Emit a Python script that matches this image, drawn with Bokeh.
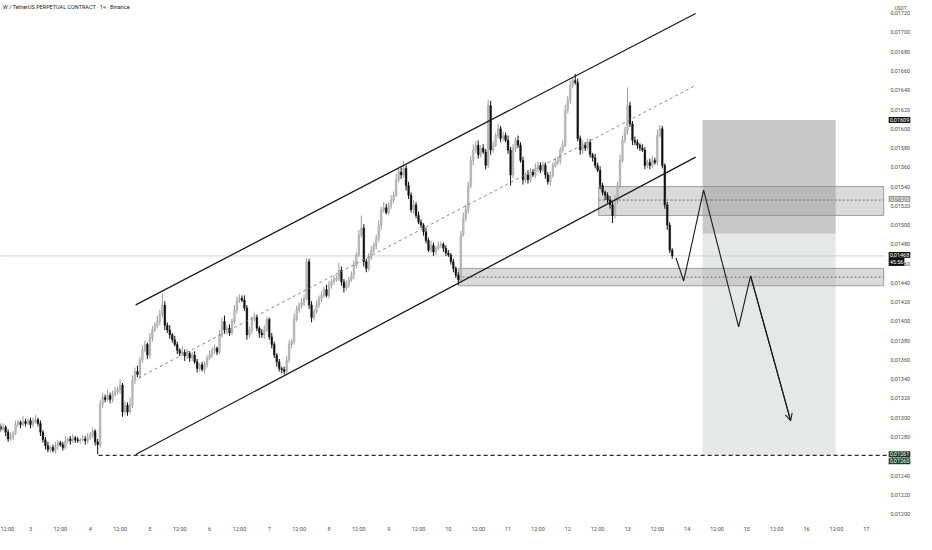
from bokeh.plotting import figure
from bokeh.models import (ColumnDataSource, Range1d, FixedTicker, CustomJSTickFormatter,
                          Label, Arrow, OpenHead)
from bokeh.embed import file_html
from bokeh.resources import INLINE

# ---------------- data (prices in units of 0.00001 USDT, hourly candles) ----------------
close_e5 = [
    1288, 1290, 1285, 1278, 1280, 1284, 1293, 1295, 1293, 1296, 1294, 1297, 1293, 1296, 1298, 1294, 1285, 1277, 1271, 1267,
    1269, 1266, 1271, 1274, 1272, 1269, 1276, 1278, 1276, 1279, 1277, 1276, 1277, 1278, 1276, 1279, 1282, 1286, 1275, 1272,
    1314, 1321, 1319, 1323, 1319, 1324, 1327, 1329, 1334, 1306, 1313, 1306, 1313, 1339, 1348, 1345, 1360, 1370, 1376, 1365,
    1383, 1391, 1396, 1400, 1407, 1417, 1396, 1391, 1386, 1381, 1376, 1370, 1367, 1368, 1364, 1367, 1362, 1365, 1358, 1351,
    1355, 1350, 1355, 1362, 1365, 1370, 1372, 1368, 1386, 1400, 1391, 1393, 1388, 1400, 1412, 1422, 1424, 1422, 1414, 1386,
    1391, 1402, 1404, 1393, 1388, 1386, 1391, 1402, 1384, 1376, 1365, 1358, 1351, 1350, 1348, 1360, 1376, 1379, 1402, 1412,
    1417, 1419, 1424, 1462, 1417, 1404, 1410, 1417, 1424, 1427, 1433, 1427, 1438, 1441, 1443, 1445, 1453, 1441, 1435, 1438,
    1443, 1448, 1458, 1469, 1490, 1497, 1462, 1455, 1466, 1474, 1479, 1486, 1500, 1516, 1518, 1513, 1521, 1526, 1531, 1547,
    1555, 1552, 1559, 1541, 1531, 1516, 1521, 1510, 1503, 1500, 1493, 1484, 1474, 1479, 1472, 1476, 1479, 1480, 1476, 1471,
    1469, 1462, 1455, 1448, 1443, 1490, 1507, 1516, 1541, 1567, 1578, 1583, 1573, 1580, 1576, 1562, 1624, 1578, 1583, 1593,
    1600, 1590, 1593, 1588, 1578, 1552, 1580, 1588, 1583, 1567, 1547, 1552, 1547, 1555, 1552, 1559, 1562, 1557, 1562, 1552,
    1545, 1552, 1562, 1565, 1567, 1578, 1583, 1619, 1630, 1645, 1650, 1648, 1590, 1578, 1583, 1580, 1586, 1573, 1570, 1562,
    1557, 1541, 1534, 1531, 1526, 1521, 1510, 1526, 1541, 1567, 1588, 1598, 1624, 1605, 1588, 1586, 1583, 1580, 1578, 1562,
    1565, 1562, 1567, 1565, 1593, 1600, 1562, 1521, 1500, 1474, 1468,
]
open_first_e5 = 1291
up_wick_e5 = [
    3, 4, 2, 3, 5, 2, 4, 3, 2, 6, 3, 2, 3, 4, 5, 2, 3, 2, 3, 4,
    2, 3, 4, 3, 2, 3, 5, 2, 3, 4, 2, 3, 2, 4, 3, 5, 3, 4, 2, 3,
    4, 5, 3, 6, 3, 4, 5, 3, 6, 2, 4, 3, 8, 5, 4, 6, 3, 5, 4, 2,
    5, 4, 3, 6, 5, 12, 4, 3, 5, 2, 4, 3, 2, 6, 3, 4, 2, 3, 4, 3,
    2, 3, 4, 3, 5, 3, 4, 2, 5, 4, 6, 3, 4, 3, 5, 4, 4, 3, 5, 3,
    4, 3, 5, 3, 2, 4, 5, 3, 2, 4, 3, 2, 3, 2, 3, 4, 5, 3, 6, 4,
    3, 5, 4, 4, 3, 4, 3, 5, 3, 4, 3, 5, 4, 3, 5, 3, 8, 4, 3, 4,
    3, 4, 5, 3, 5, 13, 4, 3, 5, 4, 3, 4, 5, 3, 6, 4, 3, 5, 4, 6,
    4, 5, 8, 3, 4, 3, 5, 3, 4, 3, 2, 4, 3, 5, 3, 2, 4, 3, 2, 3,
    3, 2, 3, 2, 3, 4, 6, 5, 4, 5, 6, 4, 5, 3, 4, 3, 6, 5, 4, 3,
    5, 3, 4, 3, 5, 3, 4, 3, 5, 3, 4, 3, 5, 4, 3, 5, 4, 3, 4, 3,
    3, 4, 3, 5, 4, 3, 5, 6, 4, 5, 3, 7, 4, 3, 5, 3, 4, 3, 2, 4,
    3, 4, 3, 2, 3, 4, 3, 5, 4, 6, 5, 4, 19, 4, 3, 4, 3, 2, 4, 3,
    3, 4, 5, 3, 6, 4, 3, 2, 3, 3, 2,
]
low_wick_e5 = [
    3, 2, 4, 3, 2, 3, 2, 3, 4, 2, 3, 2, 4, 3, 2, 3, 4, 3, 4, 3,
    3, 2, 3, 4, 2, 3, 2, 3, 4, 2, 3, 2, 3, 2, 4, 3, 2, 3, 4, 10,
    3, 4, 3, 2, 4, 3, 2, 3, 4, 5, 3, 4, 2, 3, 4, 3, 5, 3, 2, 4,
    3, 4, 2, 3, 4, 3, 5, 3, 4, 3, 2, 4, 3, 2, 5, 3, 4, 3, 2, 4,
    3, 2, 4, 3, 2, 3, 4, 3, 2, 3, 4, 5, 3, 2, 3, 4, 3, 2, 3, 5,
    3, 4, 2, 3, 5, 3, 4, 2, 3, 4, 3, 5, 3, 4, 3, 2, 3, 4, 3, 2,
    3, 4, 3, 2, 4, 5, 3, 2, 3, 4, 3, 2, 3, 4, 3, 2, 3, 4, 5, 3,
    3, 2, 4, 3, 2, 3, 5, 4, 3, 2, 3, 4, 3, 5, 3, 2, 3, 4, 3, 2,
    3, 4, 3, 5, 4, 3, 4, 3, 2, 3, 4, 3, 2, 3, 4, 3, 2, 3, 4, 3,
    2, 3, 4, 3, 5, 3, 2, 3, 4, 3, 5, 3, 4, 3, 2, 4, 3, 5, 3, 2,
    3, 4, 3, 2, 4, 11, 3, 4, 3, 2, 5, 3, 4, 3, 2, 3, 4, 3, 2, 4,
    3, 4, 3, 2, 3, 4, 3, 2, 3, 4, 3, 2, 3, 5, 4, 3, 2, 3, 4, 3,
    2, 4, 3, 5, 3, 4, 8, 3, 4, 3, 2, 3, 4, 3, 5, 3, 4, 3, 2, 4,
    3, 4, 3, 2, 3, 2, 3, 4, 5, 3, 3,
]

# x axis ticks: candle index (0 = day 2, 12:00)
x_tick_pos = [0, 12, 24, 36, 48, 60, 72, 84, 96, 108, 120, 132, 144, 156, 168, 180, 192, 204, 216, 228, 240,
              252, 264, 276, 288, 300, 312, 324, 336, 348]
x_tick_labels = ["12:00", "3", "12:00", "4", "12:00", "5", "12:00", "6", "12:00", "7", "12:00", "8", "12:00",
                 "9", "12:00", "10", "12:00", "11", "12:00", "12", "12:00", "13", "12:00", "14", "12:00", "15",
                 "12:00", "16", "12:00", "17"]
y_ticks = [0.0118, 0.0120, 0.0122, 0.0124, 0.0126, 0.0128, 0.0130, 0.0132, 0.0134, 0.0136, 0.0138, 0.0140,
           0.0142, 0.0144, 0.0146, 0.0148, 0.0150, 0.0152, 0.0154, 0.0156, 0.0158, 0.0160, 0.0162, 0.0164,
           0.0166, 0.0168, 0.0170, 0.0172]

# drawings (candle index, price)
chan_upper_x = [54.3, 279.4]
chan_upper_p = [0.014172, 0.017197]
chan_lower_x = [54.3, 279.4]
chan_lower_p = [0.012618, 0.015705]
chan_mid_x = [55.5, 279.4]
chan_mid_p = [0.013415, 0.016451]
zone_top = dict(left=240.4, right=355.0, bottom=0.01510, top=0.01540, mid=0.01526)
zone_low = dict(left=184.1, right=355.0, bottom=0.01437, top=0.01455, mid=0.01446)
pos_left, pos_right = 282.2, 335.7
stop_price, entry_price, target_price = 0.01609, 0.01491, 0.01261
proj_x = [271.5, 274.6, 282.6, 296.7, 301.5, 317.6]
proj_p = [0.01466, 0.01442, 0.015363, 0.013944, 0.014472, 0.01297]
last_price = 0.01468
target_start_x = 39.4

# ---------------- build ----------------
S = 1e-5
close = [c * S for c in close_e5]
opens = [open_first_e5 * S] + close[:-1]
high = [max(o, c) + w * S for o, c, w in zip(opens, close, up_wick_e5)]
low = [min(o, c) - w * S for o, c, w in zip(opens, close, low_wick_e5)]
idx = list(range(len(close)))

def subset(cond):
    d = dict(x=[], top=[], bottom=[], high=[], low=[])
    for i, o, c, h, l in zip(idx, opens, close, high, low):
        if cond(o, c):
            d["x"].append(i)
            d["top"].append(max(o, c))
            d["bottom"].append(min(o, c) if abs(o - c) > 0.3 * S else min(o, c) - 0.4 * S)
            d["high"].append(h)
            d["low"].append(l)
    return ColumnDataSource(d)

up_src = subset(lambda o, c: c >= o)
dn_src = subset(lambda o, c: c < o)

PLOT_END = 355.4     # where the price scale begins
X_END = 368.2        # full figure width in candle units
p = figure(width=916, height=534, output_backend="svg", toolbar_location=None,
           x_range=Range1d(-0.06, X_END), y_range=Range1d(0.011912, 0.017332),
           y_axis_location="right", min_border_left=0, min_border_top=0,
           min_border_right=0, min_border_bottom=0)
p.outline_line_color = None
p.grid.visible = False
p.background_fill_color = "white"
p.border_fill_color = "white"

FONT = "Roboto"
p.yaxis.ticker = FixedTicker(ticks=y_ticks)
p.yaxis.formatter = CustomJSTickFormatter(code="return tick.toFixed(5).replace('.', ',');")
p.yaxis.axis_line_color = None
p.yaxis.major_tick_line_color = None
p.yaxis.minor_tick_line_color = None
p.yaxis.major_tick_out = 0
p.yaxis.major_tick_in = 0
p.yaxis.major_label_text_font_size = "5.5px"
p.yaxis.major_label_text_color = "#4a4a4a"
p.yaxis.major_label_text_font = FONT
p.yaxis.major_label_standoff = -26

p.xaxis.ticker = FixedTicker(ticks=x_tick_pos)
p.xaxis.major_label_overrides = {k: v for k, v in zip(x_tick_pos, x_tick_labels)}
p.xaxis.axis_line_color = None
p.xaxis.major_tick_line_color = None
p.xaxis.minor_tick_line_color = None
p.xaxis.major_tick_out = 0
p.xaxis.major_tick_in = 0
p.xaxis.major_label_text_font_size = "5.5px"
p.xaxis.major_label_text_color = "#4a4a4a"
p.xaxis.major_label_text_font = FONT
p.xaxis.major_label_standoff = 3

# position tool boxes
p.quad(left=[pos_left], right=[pos_right], bottom=[entry_price], top=[stop_price],
       fill_color="#9a9a9a", fill_alpha=0.55, line_color=None)
p.quad(left=[pos_left], right=[pos_right], bottom=[target_price], top=[entry_price],
       fill_color="#c3ccc8", fill_alpha=0.45, line_color=None)
# zones
for z in (zone_top, zone_low):
    p.quad(left=[z["left"]], right=[z["right"]], bottom=[z["bottom"]], top=[z["top"]],
           fill_color="#a8a8a8", fill_alpha=0.42, line_color="#8c8c8c", line_width=0.8)
    p.segment(x0=[z["left"]], y0=[z["mid"]], x1=[z["right"]], y1=[z["mid"]],
              line_color="#555555", line_width=0.8, line_dash="2 2")

# current price line
p.segment(x0=[-1], y0=[last_price], x1=[PLOT_END], y1=[last_price], line_color="#d2d2d2", line_width=1)

# target dashed line
p.segment(x0=[target_start_x], y0=[target_price], x1=[PLOT_END + 2], y1=[target_price],
          line_color="#2a2a2a", line_width=1.3, line_dash="4 3")

# candles
p.segment(x0="x", y0="low", x1="x", y1="high", source=up_src, line_color="#9c9c9c", line_width=1)
p.vbar(x="x", width=0.7, top="top", bottom="bottom", source=up_src,
       fill_color="#bcbcbc", line_color="#9c9c9c", line_width=0.4)
p.segment(x0="x", y0="low", x1="x", y1="high", source=dn_src, line_color="#111111", line_width=1)
p.vbar(x="x", width=0.7, top="top", bottom="bottom", source=dn_src,
       fill_color="#111111", line_color="#111111", line_width=0.4)

# channel
p.line(chan_upper_x, chan_upper_p, line_color="#1a1a1a", line_width=1.3)
p.line(chan_lower_x, chan_lower_p, line_color="#1a1a1a", line_width=1.3)
p.line(chan_mid_x, chan_mid_p, line_color="#7a7a7a", line_width=0.9, line_dash="3 3")

# projection path
p.line(proj_x, proj_p, line_color="#1a1a1a", line_width=1.1)
p.add_layout(Arrow(end=OpenHead(size=7, line_width=1.1, line_color="#1a1a1a"),
                   x_start=proj_x[-2], y_start=proj_p[-2], x_end=proj_x[-1], y_end=proj_p[-1],
                   line_color="#1a1a1a", line_width=1.1))

# texts
p.add_layout(Label(x=0.8, y=0.017332, y_offset=-3, text="W / TetherUS PERPETUAL CONTRACT · 1ч · Binance",
                   text_font=FONT, text_font_size="5.5px", text_color="#222222",
                   text_baseline="top", text_align="left"))
p.add_layout(Label(x=361.8, y=0.017332, y_offset=-4, text="USDT",
                   text_font=FONT, text_font_size="5px", text_color="#555555",
                   text_baseline="top", text_align="center"))

def badge(price, text, bg, fg="white", dy=0):
    p.add_layout(Label(x=PLOT_END, y=price, x_offset=4, y_offset=dy, text=text,
                       text_font=FONT, text_font_size="5.5px", text_color=fg,
                       text_baseline="middle", text_align="left", level="overlay",
                       background_fill_color=bg, padding=1))

badge(stop_price, "0,01609", "#111111")
badge(zone_top["mid"], "0,01526", "#9a9a9a", dy=1)
badge(last_price, "0,01468", "#111111", dy=1)
badge(last_price, "45:56", "#111111", dy=-6)
badge(target_price, "0,01261", "#123a2c", dy=1)
badge(0.01260, "0,01260", "#123a2c", dy=-5)

open("out.html", "w").write(file_html(p, INLINE))
